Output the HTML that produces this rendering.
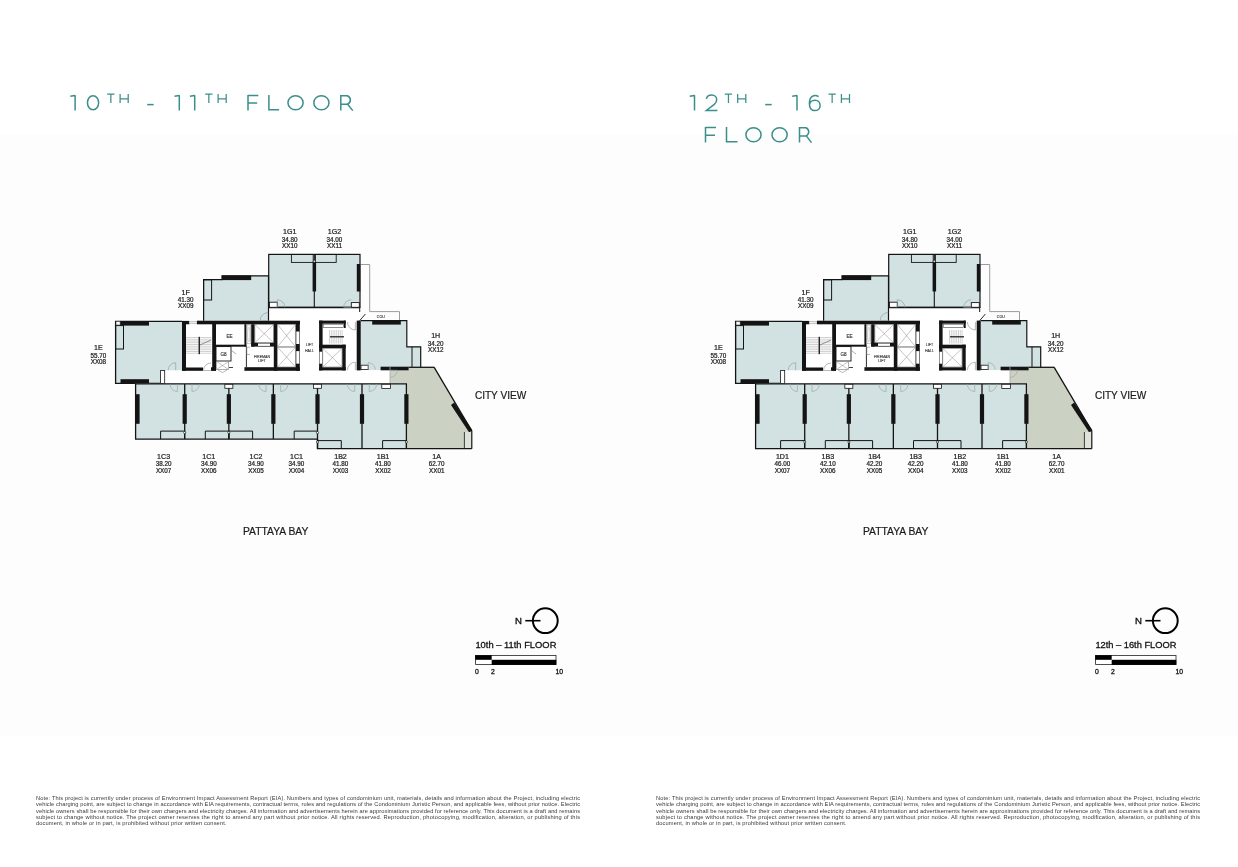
<!DOCTYPE html>
<html><head><meta charset="utf-8"><style>
html,body{margin:0;padding:0;background:#fff;}
body{width:1238px;height:867px;overflow:hidden;position:relative;font-family:"Liberation Sans",sans-serif;}
.band{position:absolute;left:0;top:135px;width:1238px;height:601px;background:#fdfdfd;}
svg{position:absolute;left:0;top:0;will-change:transform;}
.note{position:absolute;top:794.6px;width:544px;font-size:5.7px;letter-spacing:0.12px;line-height:6.35px;color:#3a3a3a;}
.nl{text-align:justify;text-align-last:justify;white-space:nowrap;height:6.35px;}
.nl.last{text-align-last:left;}
</style></head><body>
<div class="band"></div>
<svg width="1238" height="867" viewBox="0 0 1238 867" font-family="Liberation Sans, sans-serif">
<g fill="none" stroke="#3a8f8b" stroke-width="1.5">
<path stroke-linejoin="bevel" d="M70.30,96.20 L75.10,95.5 V110.6"/>
<ellipse cx="93.05" cy="102.75" rx="5.6" ry="7.05"/>
</g><g fill="none" stroke="#3a8f8b" stroke-width="1.25">
<path d="M107.2,94.0 H114.5 M110.85000000000001,94.0 V103"/><path d="M120.10000000000001,94.0 V103 M128.2,94.0 V103 M120.10000000000001,98.8 H128.2"/>
</g><g fill="none" stroke="#3a8f8b" stroke-width="1.5">
<path d="M147.2,104.6 H153.7"/>
<path stroke-linejoin="bevel" d="M174.50,96.20 L179.30,95.5 V110.6"/>
<path stroke-linejoin="bevel" d="M189.90,96.20 L194.70,95.5 V110.6"/>
</g><g fill="none" stroke="#3a8f8b" stroke-width="1.25">
<path d="M205.2,94.0 H212.5 M208.85,94.0 V103"/><path d="M218.1,94.0 V103 M226.2,94.0 V103 M218.1,98.8 H226.2"/>
</g><g fill="none" stroke="#3a8f8b" stroke-width="1.5">
<path d="M248,94.9 V110.6 M248,95.5 H258.3 M248,103 H257.2"/>
<path d="M268.9,94.9 V109.8 H279.09999999999997"/>
<ellipse cx="295.55" cy="102.75" rx="7.6" ry="7.05"/>
<ellipse cx="321.4" cy="102.75" rx="7.6" ry="7.05"/>
<path d="M340.8,110.6 V95.7 H347.3 A5,4.6 0 0 1 347.3,104.2 H340.8 M347.6,104.2 L352.8,110.6"/>
</g>
<g fill="none" stroke="#3a8f8b" stroke-width="1.5">
<path stroke-linejoin="bevel" d="M689.70,96.20 L694.50,95.5 V110.6"/>
<path d="M706.3,98.9 C707,96.3 709.2,95 711.6,95 C714.6,95 716.7,97.1 716.7,99.8 C716.7,101.6 715.9,102.9 714.3,104.4 L706.4,110.4 H717.4"/>
</g><g fill="none" stroke="#3a8f8b" stroke-width="1.25">
<path d="M724.8,94.0 H732.0999999999999 M728.4499999999999,94.0 V103"/><path d="M737.6999999999999,94.0 V103 M745.8,94.0 V103 M737.6999999999999,98.8 H745.8"/>
</g><g fill="none" stroke="#3a8f8b" stroke-width="1.5">
<path d="M765.2,104.6 H771.7"/>
<path stroke-linejoin="bevel" d="M792.20,96.20 L797.00,95.5 V110.6"/>
<path d="M818.6,96.6 C814,93.6 809.4,97 809.4,103.4 C809.4,108.4 811.6,110.6 814.8,110.6 C818,110.6 820.1,108.4 820.1,105.4 C820.1,102.2 817.8,100.2 814.9,100.2 C812,100.2 809.6,102.2 809.5,105.2"/>
</g><g fill="none" stroke="#3a8f8b" stroke-width="1.25">
<path d="M828.5,94.0 H835.8 M832.15,94.0 V103"/><path d="M841.4,94.0 V103 M849.5,94.0 V103 M841.4,98.8 H849.5"/>
</g>
<g fill="none" stroke="#3a8f8b" stroke-width="1.5">
<path d="M705.5,126.9 V142.6 M705.5,127.60000000000001 H716 M705.5,135.2 H715"/>
<path d="M726.5,126.9 V141.79999999999998 H737.5"/>
<ellipse cx="753.5" cy="134.75" rx="7.6" ry="7.05"/>
<ellipse cx="779.6" cy="134.75" rx="7.6" ry="7.05"/>
<path d="M799.5,142.6 V127.7 H806.0 A5,4.6 0 0 1 806.0,135.9 H799.5 M806.3,135.9 L811.5,142.6"/>
</g>
<g>
<rect x="115.50" y="321.00" width="66.50" height="62.50" fill="#d2e1e1" />
<path d="M203.50,279.50 L222.00,279.50 L222.00,275.50 L268.20,275.50 L268.20,320.70 L203.50,320.70 Z" fill="#d2e1e1"/>
<rect x="268.70" y="254.30" width="91.30" height="53.30" fill="#d2e1e1" />
<path d="M358.00,320.10 L406.60,320.10 L406.60,346.60 L420.70,346.60 L420.70,367.20 L408.60,367.20 L408.60,370.20 L358.00,370.20 Z" fill="#d2e1e1"/>
<path d="M390.00,367.00 L434.20,367.00 L471.60,430.80 L471.80,448.70 L407.00,448.70 L407.00,384.00 L390.00,384.00 Z" fill="#cbd2c3"/>
<rect x="182.00" y="320.70" width="174.70" height="49.60" fill="#fff" />
<rect x="160.60" y="370.30" width="229.40" height="13.20" fill="#fff" />
<rect x="268.70" y="307.60" width="91.30" height="13.10" fill="#fff" />
<path d="M182.00,321.30 L115.60,321.30 L115.60,383.40 L160.60,383.40" fill="none" stroke="#141414" stroke-width="1.3"/>
<rect x="120.00" y="321.20" width="29.00" height="4.40" fill="#141414" />
<rect x="120.50" y="379.20" width="28.50" height="4.40" fill="#141414" />
<rect x="115.60" y="325.60" width="7.90" height="23.40" fill="none" stroke="#141414" stroke-width="1.0"/>
<rect x="116.20" y="321.80" width="3.80" height="3.00" fill="#fff" stroke="#888" stroke-width="0.5"/>
<rect x="160.60" y="370.40" width="4.10" height="13.00" fill="#fff" />
<rect x="160.60" y="370.40" width="4.10" height="13.00" fill="none" stroke="#141414" stroke-width="0.8"/>
<path d="M175.7,370.2 V362.7 A7.5,7.5 0 0 0 168.2,370.2" fill="none" stroke="#8fa5a5" stroke-width="0.7"/>
<rect x="182.00" y="321.00" width="4.00" height="49.80" fill="#141414" />
<rect x="182.00" y="320.90" width="7.20" height="3.40" fill="#141414" />
<rect x="189.20" y="321.40" width="7.80" height="2.40" fill="#eee" stroke="#999" stroke-width="0.5"/>
<rect x="197.00" y="320.70" width="103.00" height="3.60" fill="#141414" />
<rect x="212.20" y="321.00" width="3.80" height="49.80" fill="#141414" />
<rect x="182.00" y="367.50" width="21.00" height="3.30" fill="#141414" />
<rect x="211.00" y="367.30" width="5.00" height="3.50" fill="#141414" />
<path d="M211.00,370.50 L203.50,370.50 A7.5,7.5 0 0 1 211.00,363.00" fill="none" stroke="#999" stroke-width="0.7"/>
<path d="M186.00,337.50 L211.50,337.50" stroke="#9a9a9a" stroke-width="0.45" fill="none"/>
<path d="M186.00,339.25 L211.50,339.25" stroke="#9a9a9a" stroke-width="0.45" fill="none"/>
<path d="M186.00,341.00 L211.50,341.00" stroke="#9a9a9a" stroke-width="0.45" fill="none"/>
<path d="M186.00,342.75 L211.50,342.75" stroke="#9a9a9a" stroke-width="0.45" fill="none"/>
<path d="M186.00,344.50 L211.50,344.50" stroke="#9a9a9a" stroke-width="0.45" fill="none"/>
<path d="M186.00,346.25 L211.50,346.25" stroke="#9a9a9a" stroke-width="0.45" fill="none"/>
<path d="M186.00,348.00 L211.50,348.00" stroke="#9a9a9a" stroke-width="0.45" fill="none"/>
<path d="M186.00,349.75 L211.50,349.75" stroke="#9a9a9a" stroke-width="0.45" fill="none"/>
<path d="M186.00,351.50 L211.50,351.50" stroke="#9a9a9a" stroke-width="0.45" fill="none"/>
<path d="M186.00,353.25 L211.50,353.25" stroke="#9a9a9a" stroke-width="0.45" fill="none"/>
<rect x="198.60" y="336.80" width="1.30" height="17.40" fill="#141414" />
<path d="M200.00,345.00 L211.00,340.00" stroke="#555" stroke-width="0.6" fill="none"/>
<rect x="244.40" y="324.20" width="2.00" height="22.40" fill="#141414" />
<rect x="216.00" y="344.70" width="30.40" height="2.00" fill="#141414" />
<rect x="216.00" y="346.60" width="15.00" height="14.40" fill="none" stroke="#141414" stroke-width="0.9"/>
<rect x="216.50" y="361.50" width="12.00" height="8.00" fill="#fff" stroke="#777" stroke-width="0.6"/><path d="M216.50,361.50 L228.50,369.50" stroke="#888" stroke-width="0.5" fill="none"/><path d="M216.50,369.50 L228.50,361.50" stroke="#888" stroke-width="0.5" fill="none"/>
<rect x="247.00" y="325.00" width="3.60" height="18.80" fill="#fff" stroke="#888" stroke-width="0.5"/>
<ellipse cx="248.8" cy="334.4" rx="1.1" ry="7.5" fill="none" stroke="#aaa" stroke-width="0.5"/>
<rect x="251.20" y="324.20" width="3.50" height="22.40" fill="#141414" />
<rect x="254.90" y="324.50" width="18.70" height="18.30" fill="#fff" stroke="#777" stroke-width="0.6"/><path d="M254.90,324.50 L273.60,342.80" stroke="#888" stroke-width="0.5" fill="none"/><path d="M254.90,342.80 L273.60,324.50" stroke="#888" stroke-width="0.5" fill="none"/>
<rect x="251.20" y="342.80" width="26.10" height="3.80" fill="#141414" />
<rect x="258.00" y="343.50" width="12.00" height="2.40" fill="#fff" />
<path d="M246.40,346.60 L246.40,367.20" stroke="#141414" stroke-width="0.9" fill="none"/>
<path d="M231.50,350.50 L236.00,354.00" stroke="#777" stroke-width="0.6" fill="none"/>
<path d="M250.00,347.20 L246.80,347.20 L246.80,354.50 L250.00,354.50" fill="none" stroke="#888" stroke-width="0.6"/>
<path d="M218.00,370.00 L222.50,372.50 L227.00,370.00" fill="none" stroke="#888" stroke-width="0.6"/>
<path d="M229.00,367.50 L233.00,367.50" stroke="#141414" stroke-width="0.8" fill="none"/>
<rect x="273.80" y="321.00" width="3.50" height="49.80" fill="#141414" />
<rect x="277.50" y="324.50" width="18.10" height="22.30" fill="#fff" stroke="#777" stroke-width="0.6"/><path d="M277.50,324.50 L295.60,346.80" stroke="#888" stroke-width="0.5" fill="none"/><path d="M277.50,346.80 L295.60,324.50" stroke="#888" stroke-width="0.5" fill="none"/>
<rect x="277.50" y="347.20" width="18.10" height="19.80" fill="#fff" stroke="#777" stroke-width="0.6"/><path d="M277.50,347.20 L295.60,367.00" stroke="#888" stroke-width="0.5" fill="none"/><path d="M277.50,367.00 L295.60,347.20" stroke="#888" stroke-width="0.5" fill="none"/>
<rect x="295.80" y="321.00" width="4.00" height="49.80" fill="#141414" />
<rect x="296.30" y="331.50" width="3.00" height="12.50" fill="#fff" />
<rect x="296.30" y="351.10" width="3.00" height="12.60" fill="#fff" />
<rect x="244.40" y="367.20" width="55.40" height="3.60" fill="#141414" />
<g font-size="4.6" fill="#333" stroke="#333" stroke-width="0.15" text-anchor="middle">
<text x="229.6" y="338">EE</text>
<text x="223.6" y="356.2">G8</text>
</g><g font-size="3.6" fill="#333" stroke="#333" stroke-width="0.12" text-anchor="middle">
<text x="262" y="357.8">FIREMAN</text><text x="262" y="362.4">LIFT</text>
<text x="309.4" y="346">LIFT</text><text x="309.4" y="351.6">HALL</text>
<text x="380.8" y="318">COU</text>
</g>
<rect x="319.10" y="320.60" width="26.60" height="3.10" fill="#141414" />
<rect x="319.10" y="320.60" width="3.50" height="49.80" fill="#141414" />
<rect x="319.50" y="351.70" width="2.70" height="12.00" fill="#fff" />
<rect x="319.10" y="344.70" width="26.60" height="3.50" fill="#141414" />
<rect x="342.20" y="344.70" width="3.50" height="25.70" fill="#141414" />
<rect x="344.00" y="320.60" width="1.70" height="7.40" fill="#141414" />
<rect x="319.10" y="367.20" width="26.60" height="3.20" fill="#141414" />
<rect x="323.20" y="324.20" width="20.40" height="3.40" fill="#fff" stroke="#444" stroke-width="0.6"/>
<path d="M329.50,330.00 L329.50,343.50" stroke="#9a9a9a" stroke-width="0.45" fill="none"/>
<path d="M331.30,330.00 L331.30,343.50" stroke="#9a9a9a" stroke-width="0.45" fill="none"/>
<path d="M333.10,330.00 L333.10,343.50" stroke="#9a9a9a" stroke-width="0.45" fill="none"/>
<path d="M334.90,330.00 L334.90,343.50" stroke="#9a9a9a" stroke-width="0.45" fill="none"/>
<path d="M336.70,330.00 L336.70,343.50" stroke="#9a9a9a" stroke-width="0.45" fill="none"/>
<path d="M338.50,330.00 L338.50,343.50" stroke="#9a9a9a" stroke-width="0.45" fill="none"/>
<path d="M340.30,330.00 L340.30,343.50" stroke="#9a9a9a" stroke-width="0.45" fill="none"/>
<path d="M342.10,330.00 L342.10,343.50" stroke="#9a9a9a" stroke-width="0.45" fill="none"/>
<rect x="330.00" y="336.20" width="14.00" height="1.20" fill="#141414" />
<rect x="322.80" y="348.40" width="19.20" height="18.60" fill="#fff" stroke="#777" stroke-width="0.6"/><path d="M322.80,348.40 L342.00,367.00" stroke="#888" stroke-width="0.5" fill="none"/><path d="M322.80,367.00 L342.00,348.40" stroke="#888" stroke-width="0.5" fill="none"/>
<path d="M355.4,322 V330 A8,8 0 0 1 347.4,322" fill="none" stroke="#999" stroke-width="0.7"/>
<path d="M355.4,370.2 V362.2 A8,8 0 0 0 347.4,370.2" fill="none" stroke="#999" stroke-width="0.7"/>
<rect x="268.70" y="254.40" width="91.30" height="53.00" fill="none" stroke="#141414" stroke-width="1.2"/>
<path d="M268.70,307.40 L360.00,307.40" stroke="#141414" stroke-width="1.5" fill="none"/>
<path d="M314.30,254.30 L314.30,307.60" stroke="#141414" stroke-width="1.1" fill="none"/>
<rect x="312.60" y="262.00" width="3.50" height="29.50" fill="#141414" />
<rect x="356.80" y="264.00" width="3.50" height="27.50" fill="#141414" />
<path d="M359.70,307.00 L359.70,312.00" stroke="#141414" stroke-width="1.0" fill="none"/>
<rect x="291.40" y="254.40" width="21.80" height="8.00" fill="none" stroke="#141414" stroke-width="0.9"/>
<rect x="315.40" y="254.40" width="20.80" height="8.00" fill="none" stroke="#141414" stroke-width="0.9"/>
<circle cx="314.3" cy="261.3" r="1.1" fill="#fff" stroke="#141414" stroke-width="0.6"/>
<rect x="269.40" y="302.20" width="7.90" height="5.10" fill="#fff" stroke="#141414" stroke-width="0.9"/>
<rect x="351.30" y="302.60" width="8.00" height="4.70" fill="#fff" stroke="#141414" stroke-width="0.9"/>
<path d="M277.30,307.30 L277.30,299.80 A7.5,7.5 0 0 1 284.80,307.30" fill="none" stroke="#8fa5a5" stroke-width="0.7"/>
<path d="M351.20,307.30 L343.70,307.30 A7.5,7.5 0 0 1 351.20,299.80" fill="none" stroke="#8fa5a5" stroke-width="0.7"/>
<path d="M203.60,320.70 L203.60,279.60 L222.00,279.60 L222.00,275.80 L268.50,275.80 L268.50,320.70" fill="none" stroke="#141414" stroke-width="1.2"/>
<rect x="222.00" y="275.50" width="29.20" height="4.60" fill="#141414" />
<rect x="203.60" y="279.80" width="8.00" height="20.20" fill="none" stroke="#141414" stroke-width="1.0"/>
<path d="M268.20,320.50 L260.20,320.50 A8,8 0 0 1 268.20,312.50" fill="none" stroke="#8fa5a5" stroke-width="0.7"/>
<path d="M361.00,264.50 L369.70,264.50 L369.70,311.60 L399.50,311.60 L399.50,320.40" fill="none" stroke="#9c9c9c" stroke-width="1.0"/>
<path d="M359.70,320.60 L365.40,314.00" stroke="#141414" stroke-width="0.9" fill="none"/>
<rect x="356.70" y="320.60" width="4.00" height="49.80" fill="#141414" />
<path d="M360.70,320.60 L406.80,320.60 L406.80,346.80 L420.70,346.80 L420.70,367.30" fill="none" stroke="#141414" stroke-width="1.2"/>
<path d="M412.00,346.80 L412.00,367.20" stroke="#141414" stroke-width="1.0" fill="none"/>
<rect x="372.20" y="320.10" width="28.60" height="4.50" fill="#141414" />
<rect x="380.60" y="366.70" width="28.00" height="3.60" fill="#141414" />
<path d="M408.60,367.30 L434.40,367.30" stroke="#141414" stroke-width="1.3" fill="none"/>
<rect x="361.00" y="365.20" width="7.20" height="4.40" fill="#fff" stroke="#141414" stroke-width="0.8"/>
<path d="M368.20,369.60 L368.20,362.60 A7,7 0 0 1 375.20,369.60" fill="none" stroke="#9aaaaa" stroke-width="0.7"/>
<path d="M390.20,370.30 L397.20,370.30 A7,7 0 0 1 390.20,377.30" fill="none" stroke="#9aaaaa" stroke-width="0.7"/>
<path d="M434.20,367.30 L471.70,430.80" stroke="#141414" stroke-width="1.3" fill="none"/>
<path d="M451.00,405.00 L454.20,402.60 L472.40,430.20 L469.20,432.40 Z" fill="#141414"/>
<rect x="464.40" y="432.00" width="7.40" height="16.70" fill="#dfe2da" />
<path d="M471.80,430.80 L471.80,448.70" stroke="#141414" stroke-width="1.2" fill="none"/>
<path d="M464.40,432.00 L464.40,448.70" stroke="#141414" stroke-width="0.8" fill="none"/>
<path d="M407.00,448.70 L471.80,448.70" stroke="#141414" stroke-width="1.3" fill="none"/>
<path d="M390.00,367.00 L390.00,384.00" stroke="#aaa" stroke-width="0.8" fill="none"/>
</g>
<rect x="135.60" y="383.50" width="181.90" height="55.70" fill="#d2e1e1" />
<rect x="317.50" y="383.50" width="89.50" height="65.20" fill="#d2e1e1" />
<path d="M135.60,383.50 L135.60,439.10 L317.50,439.10 L317.50,448.70 L407.00,448.70" fill="none" stroke="#141414" stroke-width="1.3"/>
<path d="M135.60,383.90 L407.00,383.90" stroke="#141414" stroke-width="1.3" fill="none"/>
<rect x="135.80" y="394.20" width="3.80" height="29.60" fill="#141414" />
<path d="M184.70,384.00 L184.70,439.10" stroke="#141414" stroke-width="1.3" fill="none"/>
<rect x="182.60" y="394.20" width="4.20" height="29.60" fill="#141414" />
<path d="M228.85,384.00 L228.85,439.10" stroke="#141414" stroke-width="1.3" fill="none"/>
<rect x="226.75" y="394.20" width="4.20" height="29.60" fill="#141414" />
<path d="M273.35,384.00 L273.35,439.10" stroke="#141414" stroke-width="1.3" fill="none"/>
<rect x="271.25" y="394.20" width="4.20" height="29.60" fill="#141414" />
<path d="M317.50,384.00 L317.50,448.70" stroke="#141414" stroke-width="1.3" fill="none"/>
<rect x="315.40" y="394.20" width="4.20" height="29.60" fill="#141414" />
<path d="M362.00,384.00 L362.00,448.70" stroke="#141414" stroke-width="1.3" fill="none"/>
<rect x="359.90" y="394.20" width="4.20" height="29.60" fill="#141414" />
<path d="M406.40,384.00 L406.40,448.70" stroke="#141414" stroke-width="1.3" fill="none"/>
<rect x="404.30" y="394.20" width="4.20" height="29.60" fill="#141414" />
<path d="M160.60,439.10 L160.60,431.10 L184.70,431.10 L184.70,439.10" fill="none" stroke="#141414" stroke-width="1.0"/>
<path d="M205.30,439.10 L205.30,431.10 L228.85,431.10 L228.85,439.10" fill="none" stroke="#141414" stroke-width="1.0"/>
<path d="M228.85,439.10 L228.85,431.10 L252.60,431.10 L252.60,439.10" fill="none" stroke="#141414" stroke-width="1.0"/>
<path d="M294.20,439.10 L294.20,431.10 L317.50,431.10 L317.50,439.10" fill="none" stroke="#141414" stroke-width="1.0"/>
<path d="M317.50,448.70 L317.50,440.60 L341.30,440.60 L341.30,448.70" fill="none" stroke="#141414" stroke-width="1.0"/>
<path d="M382.60,448.70 L382.60,440.60 L406.40,440.60 L406.40,448.70" fill="none" stroke="#141414" stroke-width="1.0"/>
<rect x="224.85" y="384.30" width="8.00" height="4.00" fill="#fff" stroke="#141414" stroke-width="0.8"/>
<rect x="313.50" y="384.30" width="8.00" height="4.00" fill="#fff" stroke="#141414" stroke-width="0.8"/>
<rect x="381.80" y="384.30" width="8.60" height="4.30" fill="#fff" stroke="#141414" stroke-width="0.8"/>

<path d="M177.40,384.2 V391.5 A7.3,7.3 0 0 1 170.10,384.2" fill="none" stroke="#9aaaaa" stroke-width="0.7"/>
<path d="M192.00,384.2 V391.5 A7.3,7.3 0 0 0 199.30,384.2" fill="none" stroke="#9aaaaa" stroke-width="0.7"/>

<path d="M266.05,384.2 V391.5 A7.3,7.3 0 0 1 258.75,384.2" fill="none" stroke="#9aaaaa" stroke-width="0.7"/>
<path d="M280.65,384.2 V391.5 A7.3,7.3 0 0 0 287.95,384.2" fill="none" stroke="#9aaaaa" stroke-width="0.7"/>

<path d="M354.70,384.2 V391.5 A7.3,7.3 0 0 1 347.40,384.2" fill="none" stroke="#9aaaaa" stroke-width="0.7"/>
<path d="M369.30,384.2 V391.5 A7.3,7.3 0 0 0 376.60,384.2" fill="none" stroke="#9aaaaa" stroke-width="0.7"/>
<circle cx="184.7" cy="432.6" r="1.1" fill="#fff" stroke="#141414" stroke-width="0.6"/>
<circle cx="228.85" cy="432.6" r="1.1" fill="#fff" stroke="#141414" stroke-width="0.6"/>
<circle cx="317.5" cy="432.6" r="1.1" fill="#fff" stroke="#141414" stroke-width="0.6"/>
<circle cx="317.5" cy="442" r="1.1" fill="#fff" stroke="#141414" stroke-width="0.6"/>
<circle cx="406.4" cy="442" r="1.1" fill="#fff" stroke="#141414" stroke-width="0.6"/>
<g fill="#222" stroke="#222" stroke-width="0.22">
<text x="98.4" y="350.2" font-size="7.1" text-anchor="middle">1E</text><text x="98.4" y="357.60" font-size="6.3" text-anchor="middle">55.70</text><text x="98.4" y="363.80" font-size="6.3" text-anchor="middle">XX08</text>
<text x="185.7" y="294.7" font-size="7.1" text-anchor="middle">1F</text><text x="185.7" y="302.10" font-size="6.3" text-anchor="middle">41.30</text><text x="185.7" y="308.30" font-size="6.3" text-anchor="middle">XX09</text>
<text x="289.7" y="234.2" font-size="7.1" text-anchor="middle">1G1</text><text x="289.7" y="241.60" font-size="6.3" text-anchor="middle">34.80</text><text x="289.7" y="247.80" font-size="6.3" text-anchor="middle">XX10</text>
<text x="334.5" y="234.2" font-size="7.1" text-anchor="middle">1G2</text><text x="334.5" y="241.60" font-size="6.3" text-anchor="middle">34.00</text><text x="334.5" y="247.80" font-size="6.3" text-anchor="middle">XX11</text>
<text x="435.7" y="338.3" font-size="7.1" text-anchor="middle">1H</text><text x="435.7" y="345.70" font-size="6.3" text-anchor="middle">34.20</text><text x="435.7" y="351.90" font-size="6.3" text-anchor="middle">XX12</text>
<text x="163.6" y="458.9" font-size="7.1" text-anchor="middle">1C3</text><text x="163.6" y="466.30" font-size="6.3" text-anchor="middle">38.20</text><text x="163.6" y="472.50" font-size="6.3" text-anchor="middle">XX07</text>
<text x="208.8" y="458.9" font-size="7.1" text-anchor="middle">1C1</text><text x="208.8" y="466.30" font-size="6.3" text-anchor="middle">34.90</text><text x="208.8" y="472.50" font-size="6.3" text-anchor="middle">XX06</text>
<text x="256" y="458.9" font-size="7.1" text-anchor="middle">1C2</text><text x="256" y="466.30" font-size="6.3" text-anchor="middle">34.90</text><text x="256" y="472.50" font-size="6.3" text-anchor="middle">XX05</text>
<text x="296.5" y="458.9" font-size="7.1" text-anchor="middle">1C1</text><text x="296.5" y="466.30" font-size="6.3" text-anchor="middle">34.90</text><text x="296.5" y="472.50" font-size="6.3" text-anchor="middle">XX04</text>
<text x="340.5" y="458.9" font-size="7.1" text-anchor="middle">1B2</text><text x="340.5" y="466.30" font-size="6.3" text-anchor="middle">41.80</text><text x="340.5" y="472.50" font-size="6.3" text-anchor="middle">XX03</text>
<text x="383" y="458.9" font-size="7.1" text-anchor="middle">1B1</text><text x="383" y="466.30" font-size="6.3" text-anchor="middle">41.80</text><text x="383" y="472.50" font-size="6.3" text-anchor="middle">XX02</text>
<text x="436.7" y="458.9" font-size="7.1" text-anchor="middle">1A</text><text x="436.7" y="466.30" font-size="6.3" text-anchor="middle">62.70</text><text x="436.7" y="472.50" font-size="6.3" text-anchor="middle">XX01</text>
</g>
<g transform="translate(620,0)">
<rect x="115.50" y="321.00" width="66.50" height="62.50" fill="#d2e1e1" />
<path d="M203.50,279.50 L222.00,279.50 L222.00,275.50 L268.20,275.50 L268.20,320.70 L203.50,320.70 Z" fill="#d2e1e1"/>
<rect x="268.70" y="254.30" width="91.30" height="53.30" fill="#d2e1e1" />
<path d="M358.00,320.10 L406.60,320.10 L406.60,346.60 L420.70,346.60 L420.70,367.20 L408.60,367.20 L408.60,370.20 L358.00,370.20 Z" fill="#d2e1e1"/>
<path d="M390.00,367.00 L434.20,367.00 L471.60,430.80 L471.80,448.70 L407.00,448.70 L407.00,384.00 L390.00,384.00 Z" fill="#cbd2c3"/>
<rect x="182.00" y="320.70" width="174.70" height="49.60" fill="#fff" />
<rect x="160.60" y="370.30" width="229.40" height="13.20" fill="#fff" />
<rect x="268.70" y="307.60" width="91.30" height="13.10" fill="#fff" />
<path d="M182.00,321.30 L115.60,321.30 L115.60,383.40 L160.60,383.40" fill="none" stroke="#141414" stroke-width="1.3"/>
<rect x="120.00" y="321.20" width="29.00" height="4.40" fill="#141414" />
<rect x="120.50" y="379.20" width="28.50" height="4.40" fill="#141414" />
<rect x="115.60" y="325.60" width="7.90" height="23.40" fill="none" stroke="#141414" stroke-width="1.0"/>
<rect x="116.20" y="321.80" width="3.80" height="3.00" fill="#fff" stroke="#888" stroke-width="0.5"/>
<rect x="160.60" y="370.40" width="4.10" height="13.00" fill="#fff" />
<rect x="160.60" y="370.40" width="4.10" height="13.00" fill="none" stroke="#141414" stroke-width="0.8"/>
<path d="M175.7,370.2 V362.7 A7.5,7.5 0 0 0 168.2,370.2" fill="none" stroke="#8fa5a5" stroke-width="0.7"/>
<rect x="182.00" y="321.00" width="4.00" height="49.80" fill="#141414" />
<rect x="182.00" y="320.90" width="7.20" height="3.40" fill="#141414" />
<rect x="189.20" y="321.40" width="7.80" height="2.40" fill="#eee" stroke="#999" stroke-width="0.5"/>
<rect x="197.00" y="320.70" width="103.00" height="3.60" fill="#141414" />
<rect x="212.20" y="321.00" width="3.80" height="49.80" fill="#141414" />
<rect x="182.00" y="367.50" width="21.00" height="3.30" fill="#141414" />
<rect x="211.00" y="367.30" width="5.00" height="3.50" fill="#141414" />
<path d="M211.00,370.50 L203.50,370.50 A7.5,7.5 0 0 1 211.00,363.00" fill="none" stroke="#999" stroke-width="0.7"/>
<path d="M186.00,337.50 L211.50,337.50" stroke="#9a9a9a" stroke-width="0.45" fill="none"/>
<path d="M186.00,339.25 L211.50,339.25" stroke="#9a9a9a" stroke-width="0.45" fill="none"/>
<path d="M186.00,341.00 L211.50,341.00" stroke="#9a9a9a" stroke-width="0.45" fill="none"/>
<path d="M186.00,342.75 L211.50,342.75" stroke="#9a9a9a" stroke-width="0.45" fill="none"/>
<path d="M186.00,344.50 L211.50,344.50" stroke="#9a9a9a" stroke-width="0.45" fill="none"/>
<path d="M186.00,346.25 L211.50,346.25" stroke="#9a9a9a" stroke-width="0.45" fill="none"/>
<path d="M186.00,348.00 L211.50,348.00" stroke="#9a9a9a" stroke-width="0.45" fill="none"/>
<path d="M186.00,349.75 L211.50,349.75" stroke="#9a9a9a" stroke-width="0.45" fill="none"/>
<path d="M186.00,351.50 L211.50,351.50" stroke="#9a9a9a" stroke-width="0.45" fill="none"/>
<path d="M186.00,353.25 L211.50,353.25" stroke="#9a9a9a" stroke-width="0.45" fill="none"/>
<rect x="198.60" y="336.80" width="1.30" height="17.40" fill="#141414" />
<path d="M200.00,345.00 L211.00,340.00" stroke="#555" stroke-width="0.6" fill="none"/>
<rect x="244.40" y="324.20" width="2.00" height="22.40" fill="#141414" />
<rect x="216.00" y="344.70" width="30.40" height="2.00" fill="#141414" />
<rect x="216.00" y="346.60" width="15.00" height="14.40" fill="none" stroke="#141414" stroke-width="0.9"/>
<rect x="216.50" y="361.50" width="12.00" height="8.00" fill="#fff" stroke="#777" stroke-width="0.6"/><path d="M216.50,361.50 L228.50,369.50" stroke="#888" stroke-width="0.5" fill="none"/><path d="M216.50,369.50 L228.50,361.50" stroke="#888" stroke-width="0.5" fill="none"/>
<rect x="247.00" y="325.00" width="3.60" height="18.80" fill="#fff" stroke="#888" stroke-width="0.5"/>
<ellipse cx="248.8" cy="334.4" rx="1.1" ry="7.5" fill="none" stroke="#aaa" stroke-width="0.5"/>
<rect x="251.20" y="324.20" width="3.50" height="22.40" fill="#141414" />
<rect x="254.90" y="324.50" width="18.70" height="18.30" fill="#fff" stroke="#777" stroke-width="0.6"/><path d="M254.90,324.50 L273.60,342.80" stroke="#888" stroke-width="0.5" fill="none"/><path d="M254.90,342.80 L273.60,324.50" stroke="#888" stroke-width="0.5" fill="none"/>
<rect x="251.20" y="342.80" width="26.10" height="3.80" fill="#141414" />
<rect x="258.00" y="343.50" width="12.00" height="2.40" fill="#fff" />
<path d="M246.40,346.60 L246.40,367.20" stroke="#141414" stroke-width="0.9" fill="none"/>
<path d="M231.50,350.50 L236.00,354.00" stroke="#777" stroke-width="0.6" fill="none"/>
<path d="M250.00,347.20 L246.80,347.20 L246.80,354.50 L250.00,354.50" fill="none" stroke="#888" stroke-width="0.6"/>
<path d="M218.00,370.00 L222.50,372.50 L227.00,370.00" fill="none" stroke="#888" stroke-width="0.6"/>
<path d="M229.00,367.50 L233.00,367.50" stroke="#141414" stroke-width="0.8" fill="none"/>
<rect x="273.80" y="321.00" width="3.50" height="49.80" fill="#141414" />
<rect x="277.50" y="324.50" width="18.10" height="22.30" fill="#fff" stroke="#777" stroke-width="0.6"/><path d="M277.50,324.50 L295.60,346.80" stroke="#888" stroke-width="0.5" fill="none"/><path d="M277.50,346.80 L295.60,324.50" stroke="#888" stroke-width="0.5" fill="none"/>
<rect x="277.50" y="347.20" width="18.10" height="19.80" fill="#fff" stroke="#777" stroke-width="0.6"/><path d="M277.50,347.20 L295.60,367.00" stroke="#888" stroke-width="0.5" fill="none"/><path d="M277.50,367.00 L295.60,347.20" stroke="#888" stroke-width="0.5" fill="none"/>
<rect x="295.80" y="321.00" width="4.00" height="49.80" fill="#141414" />
<rect x="296.30" y="331.50" width="3.00" height="12.50" fill="#fff" />
<rect x="296.30" y="351.10" width="3.00" height="12.60" fill="#fff" />
<rect x="244.40" y="367.20" width="55.40" height="3.60" fill="#141414" />
<g font-size="4.6" fill="#333" stroke="#333" stroke-width="0.15" text-anchor="middle">
<text x="229.6" y="338">EE</text>
<text x="223.6" y="356.2">G8</text>
</g><g font-size="3.6" fill="#333" stroke="#333" stroke-width="0.12" text-anchor="middle">
<text x="262" y="357.8">FIREMAN</text><text x="262" y="362.4">LIFT</text>
<text x="309.4" y="346">LIFT</text><text x="309.4" y="351.6">HALL</text>
<text x="380.8" y="318">COU</text>
</g>
<rect x="319.10" y="320.60" width="26.60" height="3.10" fill="#141414" />
<rect x="319.10" y="320.60" width="3.50" height="49.80" fill="#141414" />
<rect x="319.50" y="351.70" width="2.70" height="12.00" fill="#fff" />
<rect x="319.10" y="344.70" width="26.60" height="3.50" fill="#141414" />
<rect x="342.20" y="344.70" width="3.50" height="25.70" fill="#141414" />
<rect x="344.00" y="320.60" width="1.70" height="7.40" fill="#141414" />
<rect x="319.10" y="367.20" width="26.60" height="3.20" fill="#141414" />
<rect x="323.20" y="324.20" width="20.40" height="3.40" fill="#fff" stroke="#444" stroke-width="0.6"/>
<path d="M329.50,330.00 L329.50,343.50" stroke="#9a9a9a" stroke-width="0.45" fill="none"/>
<path d="M331.30,330.00 L331.30,343.50" stroke="#9a9a9a" stroke-width="0.45" fill="none"/>
<path d="M333.10,330.00 L333.10,343.50" stroke="#9a9a9a" stroke-width="0.45" fill="none"/>
<path d="M334.90,330.00 L334.90,343.50" stroke="#9a9a9a" stroke-width="0.45" fill="none"/>
<path d="M336.70,330.00 L336.70,343.50" stroke="#9a9a9a" stroke-width="0.45" fill="none"/>
<path d="M338.50,330.00 L338.50,343.50" stroke="#9a9a9a" stroke-width="0.45" fill="none"/>
<path d="M340.30,330.00 L340.30,343.50" stroke="#9a9a9a" stroke-width="0.45" fill="none"/>
<path d="M342.10,330.00 L342.10,343.50" stroke="#9a9a9a" stroke-width="0.45" fill="none"/>
<rect x="330.00" y="336.20" width="14.00" height="1.20" fill="#141414" />
<rect x="322.80" y="348.40" width="19.20" height="18.60" fill="#fff" stroke="#777" stroke-width="0.6"/><path d="M322.80,348.40 L342.00,367.00" stroke="#888" stroke-width="0.5" fill="none"/><path d="M322.80,367.00 L342.00,348.40" stroke="#888" stroke-width="0.5" fill="none"/>
<path d="M355.4,322 V330 A8,8 0 0 1 347.4,322" fill="none" stroke="#999" stroke-width="0.7"/>
<path d="M355.4,370.2 V362.2 A8,8 0 0 0 347.4,370.2" fill="none" stroke="#999" stroke-width="0.7"/>
<rect x="268.70" y="254.40" width="91.30" height="53.00" fill="none" stroke="#141414" stroke-width="1.2"/>
<path d="M268.70,307.40 L360.00,307.40" stroke="#141414" stroke-width="1.5" fill="none"/>
<path d="M314.30,254.30 L314.30,307.60" stroke="#141414" stroke-width="1.1" fill="none"/>
<rect x="312.60" y="262.00" width="3.50" height="29.50" fill="#141414" />
<rect x="356.80" y="264.00" width="3.50" height="27.50" fill="#141414" />
<path d="M359.70,307.00 L359.70,312.00" stroke="#141414" stroke-width="1.0" fill="none"/>
<rect x="291.40" y="254.40" width="21.80" height="8.00" fill="none" stroke="#141414" stroke-width="0.9"/>
<rect x="315.40" y="254.40" width="20.80" height="8.00" fill="none" stroke="#141414" stroke-width="0.9"/>
<circle cx="314.3" cy="261.3" r="1.1" fill="#fff" stroke="#141414" stroke-width="0.6"/>
<rect x="269.40" y="302.20" width="7.90" height="5.10" fill="#fff" stroke="#141414" stroke-width="0.9"/>
<rect x="351.30" y="302.60" width="8.00" height="4.70" fill="#fff" stroke="#141414" stroke-width="0.9"/>
<path d="M277.30,307.30 L277.30,299.80 A7.5,7.5 0 0 1 284.80,307.30" fill="none" stroke="#8fa5a5" stroke-width="0.7"/>
<path d="M351.20,307.30 L343.70,307.30 A7.5,7.5 0 0 1 351.20,299.80" fill="none" stroke="#8fa5a5" stroke-width="0.7"/>
<path d="M203.60,320.70 L203.60,279.60 L222.00,279.60 L222.00,275.80 L268.50,275.80 L268.50,320.70" fill="none" stroke="#141414" stroke-width="1.2"/>
<rect x="222.00" y="275.50" width="29.20" height="4.60" fill="#141414" />
<rect x="203.60" y="279.80" width="8.00" height="20.20" fill="none" stroke="#141414" stroke-width="1.0"/>
<path d="M268.20,320.50 L260.20,320.50 A8,8 0 0 1 268.20,312.50" fill="none" stroke="#8fa5a5" stroke-width="0.7"/>
<path d="M361.00,264.50 L369.70,264.50 L369.70,311.60 L399.50,311.60 L399.50,320.40" fill="none" stroke="#9c9c9c" stroke-width="1.0"/>
<path d="M359.70,320.60 L365.40,314.00" stroke="#141414" stroke-width="0.9" fill="none"/>
<rect x="356.70" y="320.60" width="4.00" height="49.80" fill="#141414" />
<path d="M360.70,320.60 L406.80,320.60 L406.80,346.80 L420.70,346.80 L420.70,367.30" fill="none" stroke="#141414" stroke-width="1.2"/>
<path d="M412.00,346.80 L412.00,367.20" stroke="#141414" stroke-width="1.0" fill="none"/>
<rect x="372.20" y="320.10" width="28.60" height="4.50" fill="#141414" />
<rect x="380.60" y="366.70" width="28.00" height="3.60" fill="#141414" />
<path d="M408.60,367.30 L434.40,367.30" stroke="#141414" stroke-width="1.3" fill="none"/>
<rect x="361.00" y="365.20" width="7.20" height="4.40" fill="#fff" stroke="#141414" stroke-width="0.8"/>
<path d="M368.20,369.60 L368.20,362.60 A7,7 0 0 1 375.20,369.60" fill="none" stroke="#9aaaaa" stroke-width="0.7"/>
<path d="M390.20,370.30 L397.20,370.30 A7,7 0 0 1 390.20,377.30" fill="none" stroke="#9aaaaa" stroke-width="0.7"/>
<path d="M434.20,367.30 L471.70,430.80" stroke="#141414" stroke-width="1.3" fill="none"/>
<path d="M451.00,405.00 L454.20,402.60 L472.40,430.20 L469.20,432.40 Z" fill="#141414"/>
<rect x="464.40" y="432.00" width="7.40" height="16.70" fill="#dfe2da" />
<path d="M471.80,430.80 L471.80,448.70" stroke="#141414" stroke-width="1.2" fill="none"/>
<path d="M464.40,432.00 L464.40,448.70" stroke="#141414" stroke-width="0.8" fill="none"/>
<path d="M407.00,448.70 L471.80,448.70" stroke="#141414" stroke-width="1.3" fill="none"/>
<path d="M390.00,367.00 L390.00,384.00" stroke="#aaa" stroke-width="0.8" fill="none"/>
</g>
<g transform="translate(620,0)">
<rect x="135.60" y="383.50" width="271.40" height="65.20" fill="#d2e1e1" />
<path d="M135.60,383.50 L135.60,448.70 L407.00,448.70" fill="none" stroke="#141414" stroke-width="1.3"/>
<path d="M135.60,383.90 L407.00,383.90" stroke="#141414" stroke-width="1.3" fill="none"/>
<rect x="135.80" y="394.20" width="3.80" height="29.60" fill="#141414" />
<path d="M184.70,384.00 L184.70,448.70" stroke="#141414" stroke-width="1.3" fill="none"/>
<rect x="182.60" y="394.20" width="4.20" height="29.60" fill="#141414" />
<path d="M228.85,384.00 L228.85,448.70" stroke="#141414" stroke-width="1.3" fill="none"/>
<rect x="226.75" y="394.20" width="4.20" height="29.60" fill="#141414" />
<path d="M273.35,384.00 L273.35,448.70" stroke="#141414" stroke-width="1.3" fill="none"/>
<rect x="271.25" y="394.20" width="4.20" height="29.60" fill="#141414" />
<path d="M317.50,384.00 L317.50,448.70" stroke="#141414" stroke-width="1.3" fill="none"/>
<rect x="315.40" y="394.20" width="4.20" height="29.60" fill="#141414" />
<path d="M362.00,384.00 L362.00,448.70" stroke="#141414" stroke-width="1.3" fill="none"/>
<rect x="359.90" y="394.20" width="4.20" height="29.60" fill="#141414" />
<path d="M406.40,384.00 L406.40,448.70" stroke="#141414" stroke-width="1.3" fill="none"/>
<rect x="404.30" y="394.20" width="4.20" height="29.60" fill="#141414" />
<path d="M160.60,448.70 L160.60,440.60 L184.70,440.60 L184.70,448.70" fill="none" stroke="#141414" stroke-width="1.0"/>
<path d="M205.30,448.70 L205.30,440.60 L228.85,440.60 L228.85,448.70" fill="none" stroke="#141414" stroke-width="1.0"/>
<path d="M228.85,448.70 L228.85,440.60 L252.60,440.60 L252.60,448.70" fill="none" stroke="#141414" stroke-width="1.0"/>
<path d="M293.50,448.70 L293.50,440.60 L341.00,440.60 L341.00,448.70" fill="none" stroke="#141414" stroke-width="1.0"/>
<path d="M382.60,448.70 L382.60,440.60 L406.40,440.60 L406.40,448.70" fill="none" stroke="#141414" stroke-width="1.0"/>
<rect x="224.85" y="384.30" width="8.00" height="4.00" fill="#fff" stroke="#141414" stroke-width="0.8"/>
<rect x="313.50" y="384.30" width="8.00" height="4.00" fill="#fff" stroke="#141414" stroke-width="0.8"/>
<rect x="381.80" y="384.30" width="8.60" height="4.30" fill="#fff" stroke="#141414" stroke-width="0.8"/>

<path d="M177.40,384.2 V391.5 A7.3,7.3 0 0 1 170.10,384.2" fill="none" stroke="#9aaaaa" stroke-width="0.7"/>
<path d="M192.00,384.2 V391.5 A7.3,7.3 0 0 0 199.30,384.2" fill="none" stroke="#9aaaaa" stroke-width="0.7"/>

<path d="M266.05,384.2 V391.5 A7.3,7.3 0 0 1 258.75,384.2" fill="none" stroke="#9aaaaa" stroke-width="0.7"/>
<path d="M280.65,384.2 V391.5 A7.3,7.3 0 0 0 287.95,384.2" fill="none" stroke="#9aaaaa" stroke-width="0.7"/>

<path d="M354.70,384.2 V391.5 A7.3,7.3 0 0 1 347.40,384.2" fill="none" stroke="#9aaaaa" stroke-width="0.7"/>
<path d="M369.30,384.2 V391.5 A7.3,7.3 0 0 0 376.60,384.2" fill="none" stroke="#9aaaaa" stroke-width="0.7"/>
<circle cx="184.7" cy="442" r="1.1" fill="#fff" stroke="#141414" stroke-width="0.6"/>
<circle cx="228.85" cy="442" r="1.1" fill="#fff" stroke="#141414" stroke-width="0.6"/>
<circle cx="317.5" cy="442" r="1.1" fill="#fff" stroke="#141414" stroke-width="0.6"/>
<circle cx="406.4" cy="442" r="1.1" fill="#fff" stroke="#141414" stroke-width="0.6"/>
<g fill="#222" stroke="#222" stroke-width="0.22">
<text x="98.4" y="350.2" font-size="7.1" text-anchor="middle">1E</text><text x="98.4" y="357.60" font-size="6.3" text-anchor="middle">55.70</text><text x="98.4" y="363.80" font-size="6.3" text-anchor="middle">XX08</text>
<text x="185.7" y="294.7" font-size="7.1" text-anchor="middle">1F</text><text x="185.7" y="302.10" font-size="6.3" text-anchor="middle">41.30</text><text x="185.7" y="308.30" font-size="6.3" text-anchor="middle">XX09</text>
<text x="289.7" y="234.2" font-size="7.1" text-anchor="middle">1G1</text><text x="289.7" y="241.60" font-size="6.3" text-anchor="middle">34.80</text><text x="289.7" y="247.80" font-size="6.3" text-anchor="middle">XX10</text>
<text x="334.5" y="234.2" font-size="7.1" text-anchor="middle">1G2</text><text x="334.5" y="241.60" font-size="6.3" text-anchor="middle">34.00</text><text x="334.5" y="247.80" font-size="6.3" text-anchor="middle">XX11</text>
<text x="435.7" y="338.3" font-size="7.1" text-anchor="middle">1H</text><text x="435.7" y="345.70" font-size="6.3" text-anchor="middle">34.20</text><text x="435.7" y="351.90" font-size="6.3" text-anchor="middle">XX12</text>
<text x="162.4" y="458.9" font-size="7.1" text-anchor="middle">1D1</text><text x="162.4" y="466.30" font-size="6.3" text-anchor="middle">46.00</text><text x="162.4" y="472.50" font-size="6.3" text-anchor="middle">XX07</text>
<text x="207.8" y="458.9" font-size="7.1" text-anchor="middle">1B3</text><text x="207.8" y="466.30" font-size="6.3" text-anchor="middle">42.10</text><text x="207.8" y="472.50" font-size="6.3" text-anchor="middle">XX06</text>
<text x="254.5" y="458.9" font-size="7.1" text-anchor="middle">1B4</text><text x="254.5" y="466.30" font-size="6.3" text-anchor="middle">42.20</text><text x="254.5" y="472.50" font-size="6.3" text-anchor="middle">XX05</text>
<text x="295.7" y="458.9" font-size="7.1" text-anchor="middle">1B3</text><text x="295.7" y="466.30" font-size="6.3" text-anchor="middle">42.20</text><text x="295.7" y="472.50" font-size="6.3" text-anchor="middle">XX04</text>
<text x="339.8" y="458.9" font-size="7.1" text-anchor="middle">1B2</text><text x="339.8" y="466.30" font-size="6.3" text-anchor="middle">41.80</text><text x="339.8" y="472.50" font-size="6.3" text-anchor="middle">XX03</text>
<text x="383" y="458.9" font-size="7.1" text-anchor="middle">1B1</text><text x="383" y="466.30" font-size="6.3" text-anchor="middle">41.80</text><text x="383" y="472.50" font-size="6.3" text-anchor="middle">XX02</text>
<text x="436.7" y="458.9" font-size="7.1" text-anchor="middle">1A</text><text x="436.7" y="466.30" font-size="6.3" text-anchor="middle">62.70</text><text x="436.7" y="472.50" font-size="6.3" text-anchor="middle">XX01</text>
</g>
</g>
<text x="474.9" y="398.7" font-size="10.3" fill="#1a1a1a" stroke="#1a1a1a" stroke-width="0.2" textLength="51.3" lengthAdjust="spacingAndGlyphs">CITY VIEW</text>
<text x="242.9" y="534.8" font-size="10.7" fill="#1a1a1a" stroke="#1a1a1a" stroke-width="0.2" textLength="65.5" lengthAdjust="spacingAndGlyphs">PATTAYA BAY</text>
<g transform="translate(620,0)">
<text x="474.9" y="398.7" font-size="10.3" fill="#1a1a1a" stroke="#1a1a1a" stroke-width="0.2" textLength="51.3" lengthAdjust="spacingAndGlyphs">CITY VIEW</text>
<text x="242.9" y="534.8" font-size="10.7" fill="#1a1a1a" stroke="#1a1a1a" stroke-width="0.2" textLength="65.5" lengthAdjust="spacingAndGlyphs">PATTAYA BAY</text>
</g>
<g transform="translate(0,0)">
<circle cx="545.3" cy="620.7" r="12.4" fill="none" stroke="#000" stroke-width="2"/>
<path d="M525.3,620.7 H540.5" stroke="#000" stroke-width="1.6"/>
<text x="515.0" y="624.2" font-size="9.6" fill="#111" stroke="#111" stroke-width="0.35">N</text>
<text x="475.4" y="648.2" font-size="9.7" fill="#111" stroke="#111" stroke-width="0.3" textLength="81" lengthAdjust="spacingAndGlyphs">10th – 11th FLOOR</text>
<rect x="475.6" y="655.6" width="80.4" height="8.9" fill="#fff" stroke="#222" stroke-width="0.8"/>
<rect x="475.2" y="655.2" width="16.5" height="4.6" fill="#000"/>
<rect x="491.7" y="659.8" width="64.6" height="5.1" fill="#000"/>
<g font-size="6.8" fill="#111" stroke="#111" stroke-width="0.3" text-anchor="middle">
<text x="476.8" y="674.4">0</text><text x="493" y="674.4">2</text><text x="559.3" y="674.4">10</text></g>
</g>
<g transform="translate(620,0)">
<circle cx="545.3" cy="620.7" r="12.4" fill="none" stroke="#000" stroke-width="2"/>
<path d="M525.3,620.7 H540.5" stroke="#000" stroke-width="1.6"/>
<text x="515.0" y="624.2" font-size="9.6" fill="#111" stroke="#111" stroke-width="0.35">N</text>
<text x="475.4" y="648.2" font-size="9.7" fill="#111" stroke="#111" stroke-width="0.3" textLength="81" lengthAdjust="spacingAndGlyphs">12th – 16th FLOOR</text>
<rect x="475.6" y="655.6" width="80.4" height="8.9" fill="#fff" stroke="#222" stroke-width="0.8"/>
<rect x="475.2" y="655.2" width="16.5" height="4.6" fill="#000"/>
<rect x="491.7" y="659.8" width="64.6" height="5.1" fill="#000"/>
<g font-size="6.8" fill="#111" stroke="#111" stroke-width="0.3" text-anchor="middle">
<text x="476.8" y="674.4">0</text><text x="493" y="674.4">2</text><text x="559.3" y="674.4">10</text></g>
</g>
<g font-size="5.7" fill="#3a3a3a"><text x="36" y="799.9" textLength="544" lengthAdjust="spacing">Note: This project is currently under process of Environment Impact Assessment Report (EIA). Numbers and types of condominium unit, materials, details and information about the Project, including electric</text><text x="36" y="806.3" textLength="544" lengthAdjust="spacing">vehicle charging point, are subject to change in accordance with EIA requirements, contractual terms, rules and regulations of the Condominium Juristic Person, and applicable fees, without prior notice. Electric</text><text x="36" y="812.7" textLength="544" lengthAdjust="spacing">vehicle owners shall be responsible for their own chargers and electricity charges. All information and advertisements herein are approximations provided for reference only. This document is a draft and remains</text><text x="36" y="819.1" textLength="544" lengthAdjust="spacing">subject to change without notice. The project owner reserves the right to amend any part without prior notice. All rights reserved. Reproduction, photocopying, modification, alteration, or publishing of this</text><text x="36" y="825.4" textLength="190.5" lengthAdjust="spacing">document, in whole or in part, is prohibited without prior written consent.</text></g>
<g font-size="5.7" fill="#3a3a3a"><text x="656" y="799.9" textLength="544" lengthAdjust="spacing">Note: This project is currently under process of Environment Impact Assessment Report (EIA). Numbers and types of condominium unit, materials, details and information about the Project, including electric</text><text x="656" y="806.3" textLength="544" lengthAdjust="spacing">vehicle charging point, are subject to change in accordance with EIA requirements, contractual terms, rules and regulations of the Condominium Juristic Person, and applicable fees, without prior notice. Electric</text><text x="656" y="812.7" textLength="544" lengthAdjust="spacing">vehicle owners shall be responsible for their own chargers and electricity charges. All information and advertisements herein are approximations provided for reference only. This document is a draft and remains</text><text x="656" y="819.1" textLength="544" lengthAdjust="spacing">subject to change without notice. The project owner reserves the right to amend any part without prior notice. All rights reserved. Reproduction, photocopying, modification, alteration, or publishing of this</text><text x="656" y="825.4" textLength="190.5" lengthAdjust="spacing">document, in whole or in part, is prohibited without prior written consent.</text></g>
</svg>

</body></html>
